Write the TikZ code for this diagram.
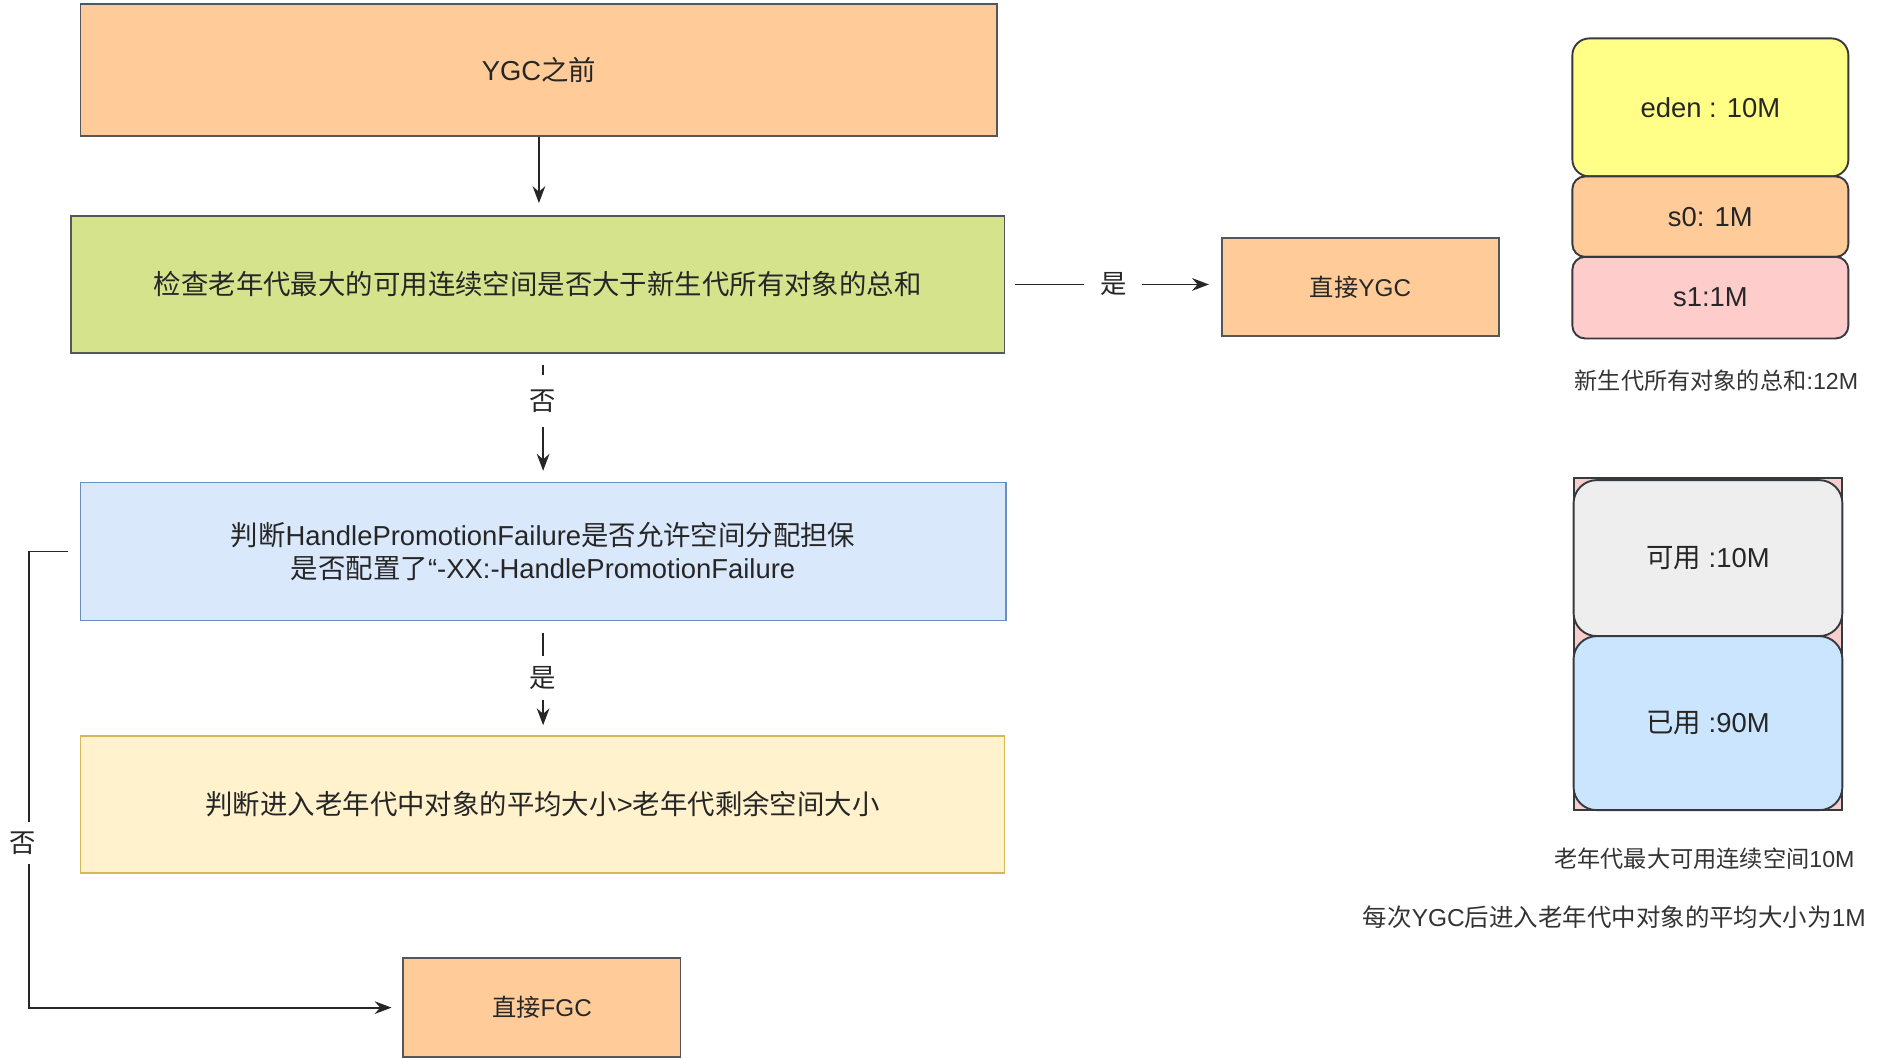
\documentclass[tikz,border=0pt]{standalone}
\usepackage{fontspec}
\setmainfont{Liberation Sans}
\newfontfamily\cjk{Noto Sans CJK SC}
\newcommand{\zh}[1]{{\cjk #1}}
\usetikzlibrary{arrows.meta}
\definecolor{boxorange}{HTML}{FFCC99}
\definecolor{boxgreen}{HTML}{D5E48C}
\definecolor{boxblue}{HTML}{DAE8FC}
\definecolor{lineblue}{HTML}{6C8EBF}
\definecolor{boxyellow}{HTML}{FFF2CC}
\definecolor{lineyellow}{HTML}{D6B656}
\definecolor{edenyellow}{HTML}{FFFF88}
\definecolor{survpink}{HTML}{FFCCCC}
\definecolor{oldpink}{HTML}{F8CECC}
\definecolor{freegray}{HTML}{EEEEEE}
\definecolor{usedblue}{HTML}{CCE5FF}
\definecolor{edge}{HTML}{36393D}

\begin{document}
\begin{tikzpicture}[x=0.02cm, y=-0.02cm, >={Stealth[length=8pt,width=6pt]},
  every node/.style={font=\fontsize{13}{15.3}\selectfont, text=black!85},
  proc/.style={draw=edge!85, line width=0.9pt, align=center},
  heap/.style={draw=edge, line width=0.9pt, minimum width=4.6cm},
  note/.style={font=\fontsize{11}{13}\selectfont, text=black!80},
  flow/.style={->, line width=0.9pt, draw=black!85},
  tag/.style={fill=white, font=\fontsize{12.5}{14}\selectfont}]
\useasboundingbox (0,0) rectangle (1568,882);
% flow chart
\node[proc, fill=boxorange, minimum width=15.28cm, minimum height=2.2cm] (before) at (449,58) {YGC\zh{之前}};
\node[proc, fill=boxgreen, minimum width=15.56cm, minimum height=2.28cm] (check) at (448,237) {\zh{检查老年代最大的可用连续空间是否大于新生代所有对象的总和}};
\node[proc, fill=boxorange, minimum width=4.62cm, minimum height=1.64cm, font=\fontsize{11.5}{13}\selectfont] (ygc) at (1133.5,239) {\zh{直接}YGC};
\node[proc, fill=boxblue, draw=lineblue, minimum width=15.42cm, minimum height=2.3cm] (hpf) at (452.5,459.5)
  {\zh{判断}HandlePromotionFailure\zh{是否允许空间分配担保}\\\zh{是否配置了}“-XX:-HandlePromotionFailure};
\node[proc, fill=boxyellow, draw=lineyellow, minimum width=15.4cm, minimum height=2.28cm] (avg) at (452,670)
  {\zh{判断进入老年代中对象的平均大小}>\zh{老年代剩余空间大小}};
\node[proc, fill=boxorange, minimum width=4.62cm, minimum height=1.66cm, font=\fontsize{11.5}{13}\selectfont] (fgc) at (451.5,839.5) {\zh{直接}FGC};

\draw[flow, shorten >=0.2cm] (before.south) -- (before.south |- check.north);
\draw[flow, shorten <=0.16cm, shorten >=0.2cm] (check.east) -- node[tag, inner xsep=0.26cm] {\zh{是}} (check.east -| ygc.west);
\draw[flow, shorten <=0.18cm, shorten >=0.18cm] (check.south -| hpf.north) -- node[tag, pos=0.37, inner xsep=1pt, inner ysep=0.24cm] {\zh{否}} (hpf.north);
\draw[flow, shorten <=0.2cm, shorten >=0.16cm] (hpf.south) -- node[tag, inner xsep=1pt, inner ysep=0.17cm] {\zh{是}} (hpf.south |- avg.north);
\draw[flow, shorten <=0.2cm, shorten >=0.18cm] (hpf.west) -- ++(-42,0) |- node[tag, pos=0.32, xshift=-0.1cm, inner xsep=1pt, inner ysep=0.16cm] {\zh{否}} (fgc.west);

% young generation
\node[heap, fill=edenyellow, minimum height=2.3cm, rounded corners=8pt] (eden) at (1425,89.5) {eden : 10M};
\node[heap, fill=boxorange, minimum height=1.34cm, rounded corners=6pt] (szero) at (1425,180.5) {s0: 1M};
\node[heap, fill=survpink, minimum height=1.36cm, rounded corners=6pt] (sone) at (1425,248) {s1:1M};
\node[note] (younglbl) at (1430,317) {\zh{新生代所有对象的总和}:12M};

% old generation
\node[draw=edge, line width=0.9pt, fill=oldpink, minimum width=4.48cm, minimum height=5.54cm] (old) at (1423,536.5) {};
\node[heap, fill=freegray, minimum width=4.48cm, minimum height=2.6cm, rounded corners=11pt] (free) at (1423,465) {\zh{可用} :10M};
\node[heap, fill=usedblue, minimum width=4.48cm, minimum height=2.9cm, rounded corners=11pt] (used) at (1423,602.5) {\zh{已用} :90M};
\node[note] (oldlbl) at (1420,715) {\zh{老年代最大可用连续空间}10M};
\node[note, font=\fontsize{11.6}{13}\selectfont] (avglbl) at (1345,764) {\zh{每次}YGC\zh{后进入老年代中对象的平均大小为}1M};
\end{tikzpicture}
\end{document}
